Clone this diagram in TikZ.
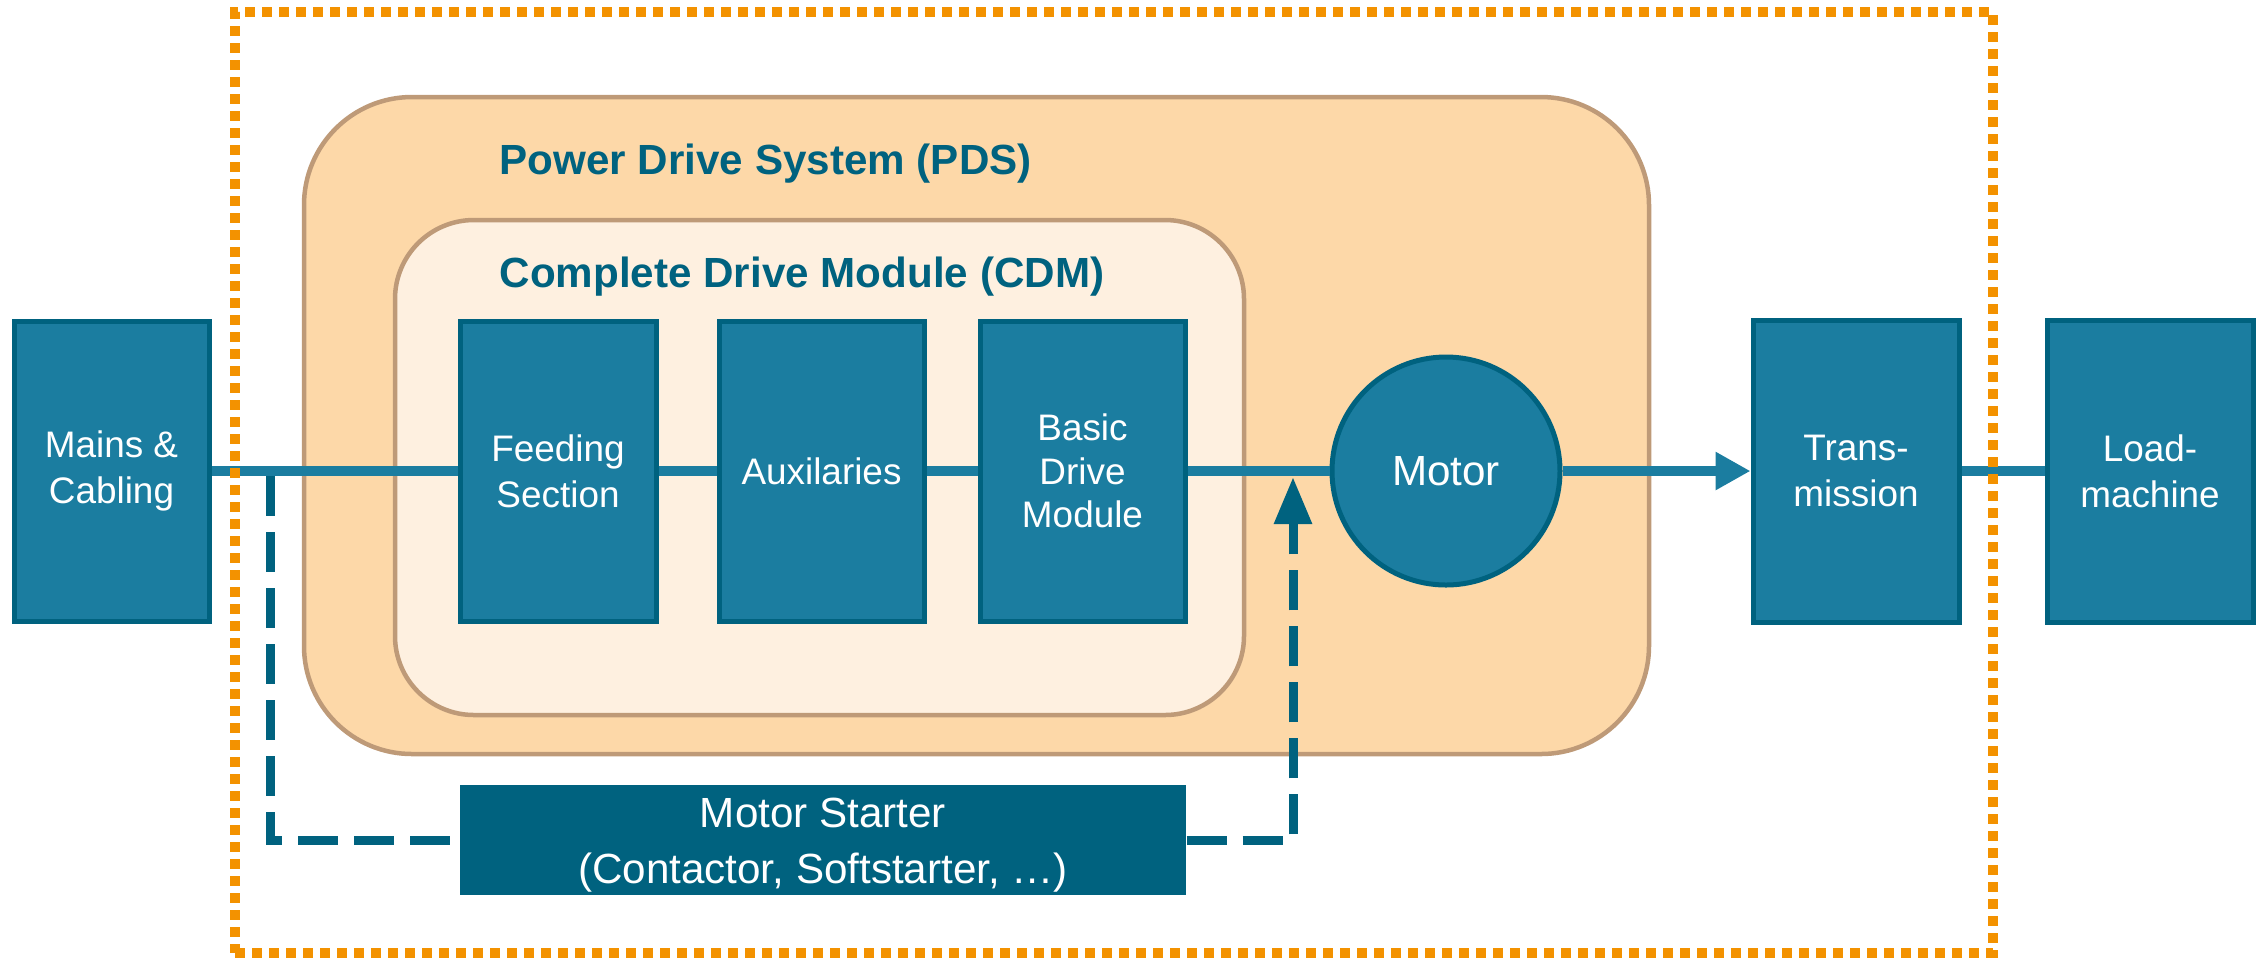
\documentclass[tikz,border=0pt]{standalone}
\usepackage{fontspec}
\setmainfont{Liberation Sans}
\usepackage{tikz}
\definecolor{bleu}{HTML}{1B7DA0}
\definecolor{marine}{HTML}{00627F}
\definecolor{peche}{HTML}{FDD8A8}
\definecolor{creme}{HTML}{FEF0E0}
\definecolor{sable}{HTML}{BE9A78}
\definecolor{ambre}{HTML}{F39200}
\usetikzlibrary{arrows.meta,calc}

\begin{document}
\begin{tikzpicture}[
    bloc/.style={rectangle, minimum width=2.05cm, minimum height=3cm,
      draw=marine, fill=bleu, line width=0.05cm, inner sep=0pt,
      text=white, align=center, font=\fontsize{10.5}{13}\selectfont},
    titre/.style={anchor=west, inner sep=0pt, text=marine,
      font=\fontsize{12}{14}\selectfont\bfseries},
    ligne/.style={bleu, line width=0.1cm},
    pointille/.style={marine, line width=0.09cm, dash pattern=on 0.4cm off 0.16cm}]
  \useasboundingbox (0,0) rectangle (22.6,-9.57);

  % the two rounded frames
  \node[
    rectangle,
    rounded corners=1.08cm,
    minimum width=13.45cm,
    minimum height=6.57cm,
    draw=sable,
    fill=peche,
    line width=0.045cm] at (9.765,-4.255) (pds) {};

  \node[titre] at (4.99,-1.64) (pdsl) {Power Drive System (PDS)};

  \node[
    rectangle,
    rounded corners=0.79cm,
    minimum width=8.49cm,
    minimum height=4.95cm,
    draw=sable,
    fill=creme,
    line width=0.045cm] at (8.195,-4.675) (cdm) {};

  \node[titre] at (4.99,-2.77) (cdml) {Complete Drive Module (CDM)};

  % blocks
  \node[bloc, minimum width=1.95cm] at (1.115,-4.71) (mains) {Mains \&\\Cabling};
  \node[bloc, minimum width=1.96cm] at (5.58,-4.71) (feed) {Feeding\\Section};
  \node[bloc] at (8.215,-4.71) (aux) {Auxilaries};
  \node[bloc, font=\fontsize{10.5}{12.3}\selectfont] at (10.825,-4.71) (bdm) {Basic\\Drive\\Module};
  \node[
    circle,
    minimum size=2.28cm,
    draw=marine,
    fill=bleu,
    line width=0.05cm,
    text=white,
    font=\fontsize{12}{14}\selectfont] at (14.46,-4.71) (motor) {Motor};
  \node[bloc, minimum width=2.06cm, minimum height=3.02cm] at (18.56,-4.71) (trans) {Trans-\\mission};
  \node[bloc, minimum width=2.06cm, minimum height=3.02cm] at (21.50,-4.71) (load) {Load-\\machine};

  \node[
    rectangle,
    minimum width=7.26cm,
    minimum height=1.10cm,
    fill=marine,
    text=white,
    align=center,
    font=\fontsize{12}{16}\selectfont] at (8.23,-8.40) (starter) {};
  \node[text=white, align=center, font=\fontsize{12}{16}\selectfont]
    at ($(starter.center)+(0,-0.05)$) (starterl) {Motor Starter\\(Contactor, Softstarter, …)};

  % power path
  \draw[ligne] (mains) -- (feed);
  \draw[ligne] (feed) -- (aux);
  \draw[ligne] (aux) -- (bdm);
  \draw[ligne] (bdm) -- (motor);
  \draw[ligne,-{Triangle[length=0.35cm,width=0.36cm]}] (motor) -- (trans);
  \draw[ligne] (trans) -- (load);

  % bypass through the starter
  \coordinate (depart) at (2.70,-4.76);
  \coordinate (arrivee) at (12.93,-4.77);
  \draw[pointille] (depart) |- (starter.west);
  \draw[pointille,-{Triangle[length=0.47cm,width=0.36cm]}] (starter.east) -| (arrivee);

  % system boundary
  \node[
    rectangle,
    minimum width=17.58cm,
    minimum height=9.41cm,
    draw=ambre,
    line width=0.1cm,
    dash pattern=on 0.1cm off 0.07cm] at (11.14,-4.825) (systeme) {};

\end{tikzpicture}
\end{document}
